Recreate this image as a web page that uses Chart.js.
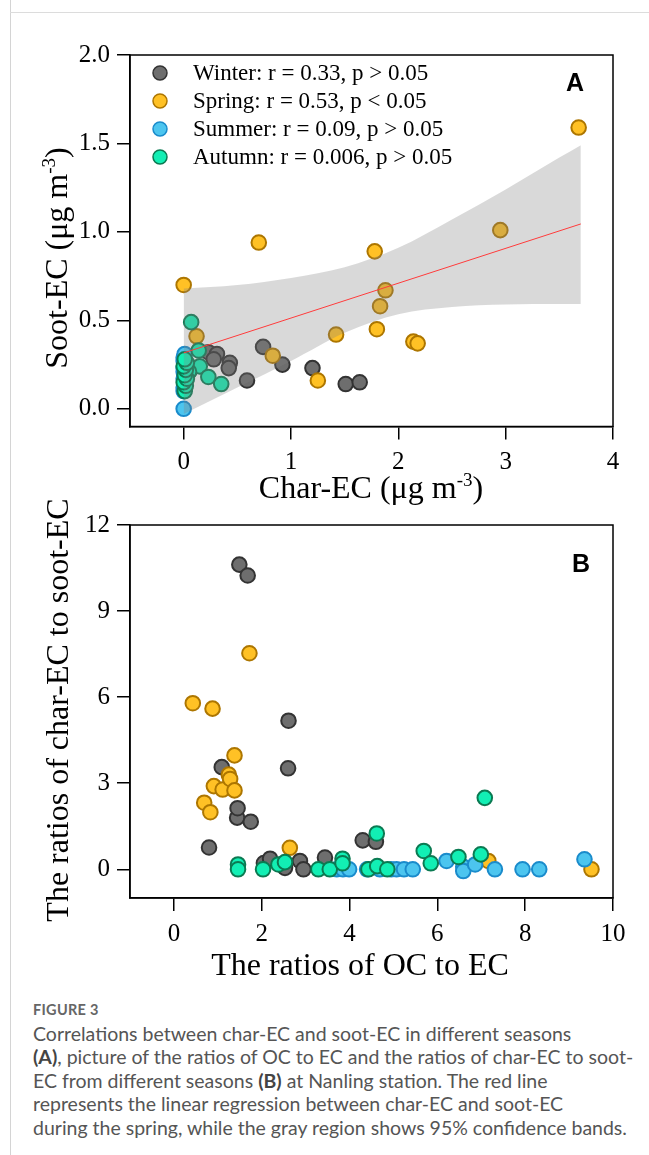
<!DOCTYPE html>
<html><head><meta charset="utf-8">
<script src="https://cdn.jsdelivr.net/npm/chart.js@4.4.0/dist/chart.umd.min.js"></script>
<style>
html,body{margin:0;padding:0;background:#fff;}
body{width:649px;height:1155px;position:relative;overflow:hidden;}
#vline{position:absolute;left:10px;top:0;width:1px;height:1155px;background:#d4d4d4;}
#hline{position:absolute;left:10px;top:12px;width:639px;height:1px;background:#dcdcdc;}
#cA{position:absolute;left:0;top:0;}
#cB{position:absolute;left:0;top:500px;}
#cap{position:absolute;left:33px;top:998px;font-family:Lato,"Noto Sans",sans-serif;color:#555;font-size:19.5px;line-height:23.5px;white-space:nowrap;}
#cap .fig{font-size:14.5px;font-weight:bold;color:#666;letter-spacing:0.3px;}
#cap b{font-weight:bold;color:#444;}
</style></head>
<body>
<div id="vline"></div><div id="hline"></div>
<canvas id="cA" width="649" height="510"></canvas>
<canvas id="cB" width="649" height="480"></canvas>
<div id="cap"><div class="fig">FIGURE 3</div>
Correlations between char-EC and soot-EC in different seasons<br>
<b>(A)</b>, picture of the ratios of OC to EC and the ratios of char-EC to soot-<br>
EC from different seasons <b>(B)</b> at Nanling station. The red line<br>
represents the linear regression between char-EC and soot-EC<br>
during the spring, while the gray region shows 95% confidence bands.</div>
<script>
// ---------- DATA ----------
const seasonNames = ['Winter', 'Spring', 'Summer', 'Autumn'];
const legendLabels = ['Winter: r = 0.33, p > 0.05', 'Spring: r = 0.53, p < 0.05', 'Summer: r = 0.09, p > 0.05', 'Autumn: r = 0.006, p > 0.05'];

// Panel A: [char-EC, soot-EC]
const winterA = [[0.02,0.26],[0.05,0.21],[0.23,0.32],[0.31,0.31],[0.28,0.28],[0.43,0.26],[0.42,0.23],[0.59,0.16],[0.74,0.35],[0.92,0.25],[1.20,0.23],[1.51,0.14],[1.64,0.15]];
const springA = [[0.00,0.70],[0.12,0.41],[0.70,0.94],[0.83,0.30],[1.25,0.16],[1.42,0.42],[1.78,0.89],[1.80,0.45],[1.83,0.58],[1.88,0.67],[2.14,0.38],[2.18,0.37],[2.95,1.01],[3.68,1.59]];
const summerA = [[0.00,0.00],[0.00,0.10],[0.00,0.12],[0.01,0.15],[0.00,0.17],[0.01,0.19],[0.00,0.21],[0.00,0.23],[0.01,0.25],[0.00,0.27],[0.00,0.29],[0.01,0.31]];
const autumnA = [[0.07,0.49],[0.14,0.33],[0.15,0.24],[0.05,0.21],[0.23,0.18],[0.35,0.14],[0.01,0.10],[0.02,0.13],[0.00,0.15],[0.03,0.17],[0.01,0.19],[0.02,0.22],[0.00,0.24],[0.03,0.26],[0.01,0.28]];

// Spring regression line and 95% band
const fitX = [0, 3.70];
const fitY = [0.316, 1.045];
const bandX = [0, 0.5, 1.0, 1.5, 2.0, 2.5, 3.0, 3.5, 3.70];
const bandUpper = [0.68, 0.70, 0.74, 0.80, 0.91, 1.07, 1.24, 1.42, 1.49];
const bandLower = [-0.03, 0.12, 0.27, 0.43, 0.535, 0.575, 0.59, 0.592, 0.593];

// Panel B: [OC/EC, char-EC/soot-EC]
const winterB = [[0.80,0.76],[1.09,3.56],[1.44,1.80],[1.45,2.13],[1.49,10.62],[1.68,10.24],[1.75,1.66],[2.05,0.22],[2.19,0.37],[2.53,0.05],[2.60,3.52],[2.61,5.18],[2.87,0.29],[2.95,0.00],[3.44,0.41],[4.30,1.01],[4.60,0.96]];
const springB = [[0.43,5.79],[0.69,2.32],[0.83,1.99],[0.88,5.60],[0.91,2.90],[1.11,2.78],[1.25,3.30],[1.28,3.15],[1.38,3.97],[1.38,2.75],[1.72,7.53],[2.64,0.75],[7.16,0.29],[9.51,0.00]];
const summerB = [[3.71,0],[3.85,0],[3.99,0],[4.40,0],[4.69,0],[4.95,0],[5.07,0],[5.24,0],[5.44,0],[6.21,0.29],[6.59,0.09],[6.59,-0.06],[6.86,0.17],[7.31,0],[7.94,0],[8.32,0],[9.35,0.35]];
const autumnB = [[1.46,0.17],[1.46,0.00],[2.03,0],[2.38,0.17],[2.53,0.25],[3.29,0],[3.55,0],[3.84,0.37],[3.84,0.21],[4.43,0],[4.63,0.11],[4.86,0],[4.62,1.25],[5.69,0.64],[5.85,0.21],[6.48,0.43],[6.99,0.52],[7.08,2.49]];

// Ticks
const xTicksA = [0, 1, 2, 3, 4];
const yTicksA = [0, 0.5, 1.0, 1.5, 2.0];
const yTickLabelsA = ['0.0', '0.5', '1.0', '1.5', '2.0'];
const xTicksB = [0, 2, 4, 6, 8, 10];
const yTicksB = [0, 3, 6, 9, 12];

// ---------- STYLE ----------
const fills = ['#6e6e6e', '#ffc125', '#4cc5ef', '#12efb4'];
const edges = ['#333333', '#ad7600', '#1a8bcb', '#0b7a52'];
const SERIF = '"Liberation Serif","Times New Roman",serif';

function pts(arr){ return arr.map(([x,y]) => ({x, y})); }

function scatterSets(groups){
  // winter drawn first (bottom), autumn on top
  return groups.map((g, i) => ({
    type: 'scatter', label: seasonNames[i], data: pts(g),
    backgroundColor: fills[i], borderColor: edges[i], borderWidth: 2,
    pointRadius: 7.3, pointHoverRadius: 7.3, order: 10 - i
  }));
}

function drawRich(ctx, pieces, cx, cy, rot){
  const big = 'normal 32px ' + SERIF, small = 'normal 19px ' + SERIF;
  let w = 0;
  pieces.forEach(p => { ctx.font = p.sup ? small : big; p.w = ctx.measureText(p.t).width; w += p.w; });
  ctx.save();
  ctx.translate(cx, cy); ctx.rotate(rot);
  ctx.textAlign = 'left'; ctx.textBaseline = 'alphabetic'; ctx.fillStyle = '#000';
  let x = -w / 2;
  pieces.forEach(p => { ctx.font = p.sup ? small : big; ctx.fillText(p.t, x, p.sup ? -12 : 0); x += p.w; });
  ctx.restore();
}

const decor = {
  id: 'decor',
  afterDraw(chart, args, o){
    const ctx = chart.ctx, a = chart.chartArea;
    ctx.save();
    ctx.strokeStyle = '#000'; ctx.lineWidth = 1.5;
    ctx.strokeRect(a.left, a.top, a.right - a.left, a.bottom - a.top);
    ctx.fillStyle = '#000';
    ctx.font = 'bold 25px "Liberation Sans",Arial,sans-serif';
    ctx.textAlign = 'center'; ctx.textBaseline = 'middle';
    ctx.fillText(o.letter, o.letterX, o.letterY);
    drawRich(ctx, o.xTitle, o.xTitleX, o.xTitleY, 0);
    drawRich(ctx, o.yTitle, o.yTitleX, o.yTitleY, -Math.PI / 2);
    if (o.legend){
      legendLabels.forEach((t, i) => {
        const y = 73 + i * 28;
        ctx.beginPath(); ctx.arc(160, y, 7, 0, Math.PI * 2);
        ctx.fillStyle = fills[i]; ctx.fill();
        ctx.lineWidth = 1.5; ctx.strokeStyle = edges[i]; ctx.stroke();
        ctx.fillStyle = '#000'; ctx.font = 'normal 23px ' + SERIF;
        ctx.textAlign = 'left'; ctx.textBaseline = 'middle';
        ctx.fillText(t, 193, y + 1);
      });
    }
    ctx.restore();
  }
};

function axes(xmin, xmax, xt, ymin, ymax, yt, ylab, xh){
  const grid = {display: true, drawOnChartArea: false, drawTicks: true, tickLength: 13, tickWidth: 1.5, tickColor: '#000', color: '#000', lineWidth: 1.5};
  const border = {display: true, color: '#000', width: 1.5};
  const font = {family: SERIF, size: 25};
  return {
    x: {type: 'linear', min: xmin, max: xmax, grid, border,
        ticks: {color: '#000', font, padding: 8, maxRotation: 0, autoSkip: false},
        afterBuildTicks: s => { s.ticks = xt.map(v => ({value: v})); },
        afterFit: s => { s.height = xh; }},
    y: {type: 'linear', min: ymin, max: ymax, grid, border,
        ticks: {color: '#000', font, padding: 7, autoSkip: false,
                callback: (v, i) => ylab ? ylab[i] : String(v)},
        afterBuildTicks: s => { s.ticks = yt.map(v => ({value: v})); },
        afterFit: s => { s.width = 130; }}
  };
}

const common = {
  responsive: false, animation: false, devicePixelRatio: 1,
  plugins: {legend: {display: false}, tooltip: {enabled: false}},
  events: []
};

// ---------- Panel A ----------
const dsA = scatterSets([winterA, springA, summerA, autumnA]);
dsA.push({
  type: 'line', label: 'band upper', data: bandX.map((x, i) => ({x, y: bandUpper[i]})),
  borderWidth: 0, pointRadius: 0, fill: '+1', backgroundColor: 'rgba(128,128,128,0.3)',
  cubicInterpolationMode: 'monotone', order: 2
});
dsA.push({
  type: 'line', label: 'band lower', data: bandX.map((x, i) => ({x, y: bandLower[i]})),
  borderWidth: 0, pointRadius: 0, fill: false, cubicInterpolationMode: 'monotone', order: 3
});
dsA.push({
  type: 'line', label: 'fit', data: fitX.map((x, i) => ({x, y: fitY[i]})),
  borderColor: '#ff3b3b', borderWidth: 1, pointRadius: 0, fill: false, order: 1
});

new Chart(document.getElementById('cA'), {
  type: 'scatter',
  data: {datasets: dsA},
  options: Object.assign({}, common, {
    layout: {padding: {top: 55, right: 36, left: 0, bottom: 0}},
    scales: axes(-0.5, 4, xTicksA, -0.1, 2.0, yTicksA, yTickLabelsA, 83.5),
    plugins: Object.assign({}, common.plugins, {
      decor: {letter: 'A', letterX: 575, letterY: 84,
        xTitle: [{t: 'Char-EC (μg m'}, {t: '-3', sup: true}, {t: ')'}], xTitleX: 371, xTitleY: 498,
        yTitle: [{t: 'Soot-EC (μg m'}, {t: '-3', sup: true}, {t: ')'}], yTitleX: 67, yTitleY: 258,
        legend: true}
    })
  }),
  plugins: [decor]
});

// ---------- Panel B ----------
const dsB = scatterSets([winterB, springB, summerB, autumnB]);
new Chart(document.getElementById('cB'), {
  type: 'scatter',
  data: {datasets: dsB},
  options: Object.assign({}, common, {
    layout: {padding: {top: 25, right: 36, left: 0, bottom: 0}},
    scales: axes(-1, 10, xTicksB, -1, 12, yTicksB, null, 82),
    plugins: Object.assign({}, common.plugins, {
      decor: {letter: 'B', letterX: 581, letterY: 65,
        xTitle: [{t: 'The ratios of OC to EC'}], xTitleX: 360, xTitleY: 475,
        yTitle: [{t: 'The ratios of char-EC to soot-EC'}], yTitleX: 68, yTitleY: 210,
        legend: false}
    })
  }),
  plugins: [decor]
});
</script>
</body></html>
